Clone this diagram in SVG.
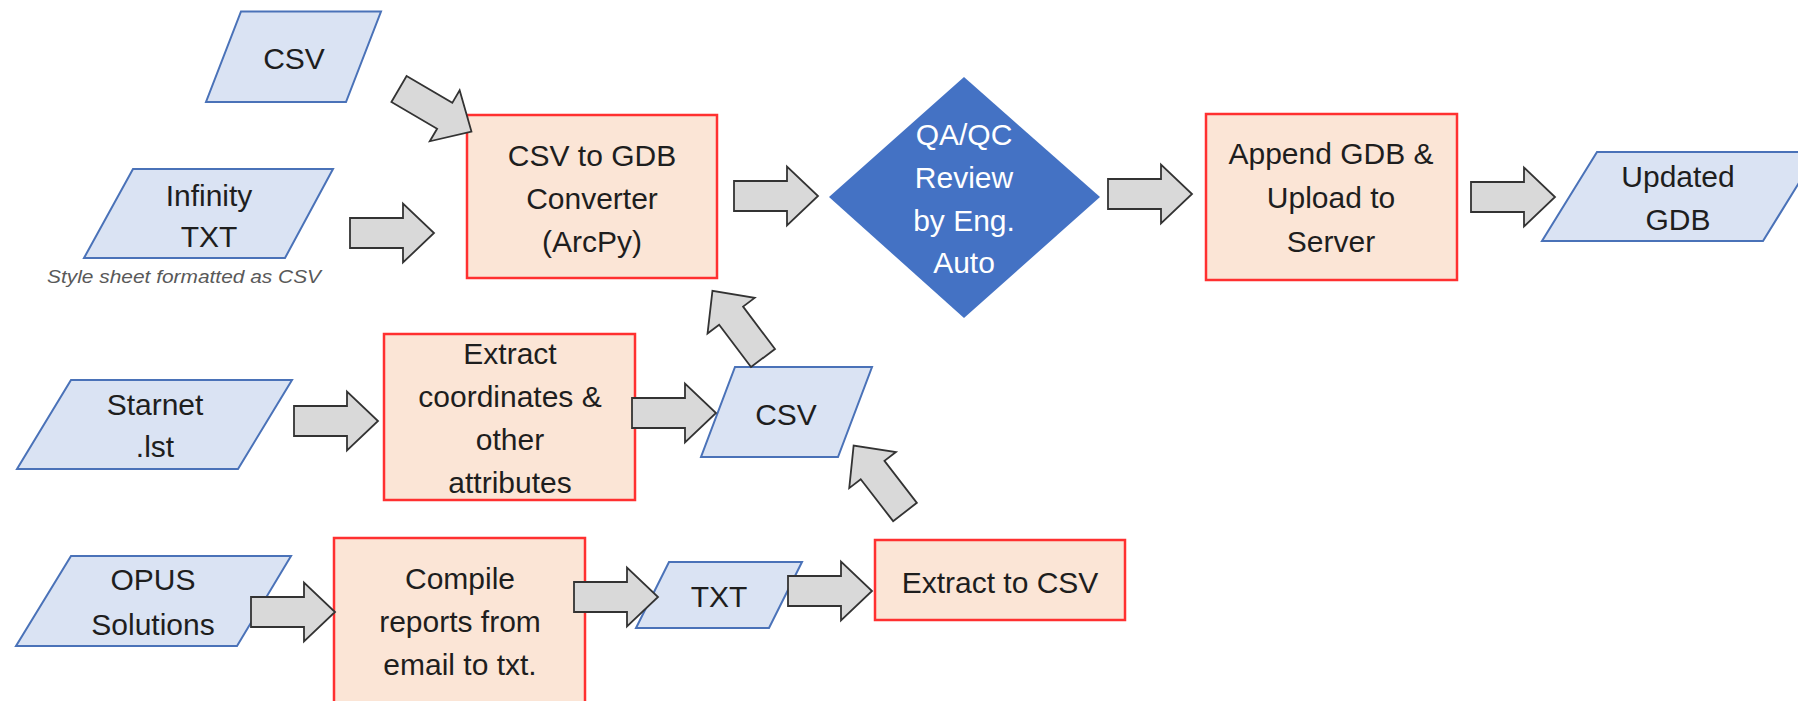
<svg xmlns="http://www.w3.org/2000/svg" xmlns:xlink="http://www.w3.org/1999/xlink" width="1798" height="701" viewBox="0 0 1798 701">
<style>
.data{fill:#dae3f3;stroke:#4a72b8;stroke-width:2}
.proc{fill:#fbe5d6;stroke:#ff3030;stroke-width:2.5}
.dec{fill:#4472c4;stroke:none}
.t{font-family:"Liberation Sans",Arial,sans-serif;font-size:30px;fill:#1e1e1e;text-anchor:middle}
.w{fill:#ffffff}
.cap{font-family:"Liberation Sans",Arial,sans-serif;font-size:18px;font-style:italic;fill:#595959}
.arr{fill:#d9d9d9;stroke:#333333;stroke-width:1.8;stroke-linejoin:miter}
</style>
<defs>
<path id="ba" d="M0,-15 H53 V-29.5 L84,0 L53,29.5 V15 H0 Z"/>
</defs>
<rect width="1798" height="701" fill="#ffffff"/>
<g id="n-csv1">
<polygon class="data" points="241,11.5 381,11.5 346,102 206,102"/>
<text class="t" x="294" y="69">CSV</text>
</g>
<g id="n-infinity">
<polygon class="data" points="133,169 333,169 285,258 84,258"/>
<text class="t" x="209" y="206">Infinity</text>
<text class="t" x="209" y="247">TXT</text>
<text class="cap" x="47" y="283" textLength="274" lengthAdjust="spacingAndGlyphs">Style sheet formatted as CSV</text>
</g>
<g id="n-converter">
<rect class="proc" x="467" y="115" width="250" height="163"/>
<text class="t" x="592" y="166">CSV to GDB</text>
<text class="t" x="592" y="209">Converter</text>
<text class="t" x="592" y="252">(ArcPy)</text>
</g>
<g id="n-qaqc">
<polygon class="dec" points="964,77 1100,197 964,318 829,197"/>
<text class="t w" x="964" y="145">QA/QC</text>
<text class="t w" x="964" y="188">Review</text>
<text class="t w" x="964" y="231">by Eng.</text>
<text class="t w" x="964" y="273">Auto</text>
</g>
<g id="n-append">
<rect class="proc" x="1206" y="114" width="251" height="166"/>
<text class="t" x="1331" y="164">Append GDB &amp;</text>
<text class="t" x="1331" y="208">Upload to</text>
<text class="t" x="1331" y="252">Server</text>
</g>
<g id="n-updated">
<polygon class="data" points="1597,152 1818,152 1763,241 1542,241"/>
<text class="t" x="1678" y="187">Updated</text>
<text class="t" x="1678" y="230">GDB</text>
</g>
<g id="n-starnet">
<polygon class="data" points="71,380 292,380 238,469 17,469"/>
<text class="t" x="155" y="415">Starnet</text>
<text class="t" x="155" y="457">.lst</text>
</g>
<g id="n-extract">
<rect class="proc" x="384" y="334" width="251" height="166"/>
<text class="t" x="510" y="364">Extract</text>
<text class="t" x="510" y="407">coordinates &amp;</text>
<text class="t" x="510" y="450">other</text>
<text class="t" x="510" y="493">attributes</text>
</g>
<g id="n-csv2">
<polygon class="data" points="735,367 872,367 838,457 701,457"/>
<text class="t" x="786" y="425">CSV</text>
</g>
<g id="n-opus">
<polygon class="data" points="71,556 291,556 237,646 16,646"/>
<text class="t" x="153" y="590">OPUS</text>
<text class="t" x="153" y="635">Solutions</text>
</g>
<g id="n-compile">
<rect class="proc" x="334" y="538" width="251" height="168"/>
<text class="t" x="460" y="589">Compile</text>
<text class="t" x="460" y="632">reports from</text>
<text class="t" x="460" y="675">email to txt.</text>
</g>
<g id="n-txt">
<polygon class="data" points="669,562 802,562 769,628 636,628"/>
<text class="t" x="719" y="607">TXT</text>
</g>
<g id="n-extractcsv">
<rect class="proc" x="875" y="540" width="250" height="80"/>
<text class="t" x="1000" y="593">Extract to CSV</text>
</g>
<g id="connectors">
<use xlink:href="#ba" href="#ba" class="arr" transform="translate(399,89) rotate(30.4)"/>
<use xlink:href="#ba" href="#ba" class="arr" transform="translate(350,233)"/>
<use xlink:href="#ba" href="#ba" class="arr" transform="translate(734,196)"/>
<use xlink:href="#ba" href="#ba" class="arr" transform="translate(1108,194)"/>
<use xlink:href="#ba" href="#ba" class="arr" transform="translate(1471,197)"/>
<use xlink:href="#ba" href="#ba" class="arr" transform="translate(294,421)"/>
<use xlink:href="#ba" href="#ba" class="arr" transform="translate(632,413)"/>
<use xlink:href="#ba" href="#ba" class="arr" transform="translate(763,358) rotate(-127)"/>
<use xlink:href="#ba" href="#ba" class="arr" transform="translate(251,612)"/>
<use xlink:href="#ba" href="#ba" class="arr" transform="translate(574,597)"/>
<use xlink:href="#ba" href="#ba" class="arr" transform="translate(788,591)"/>
<use xlink:href="#ba" href="#ba" class="arr" transform="translate(905,512) rotate(-127.7)"/>
</g>
</svg>
